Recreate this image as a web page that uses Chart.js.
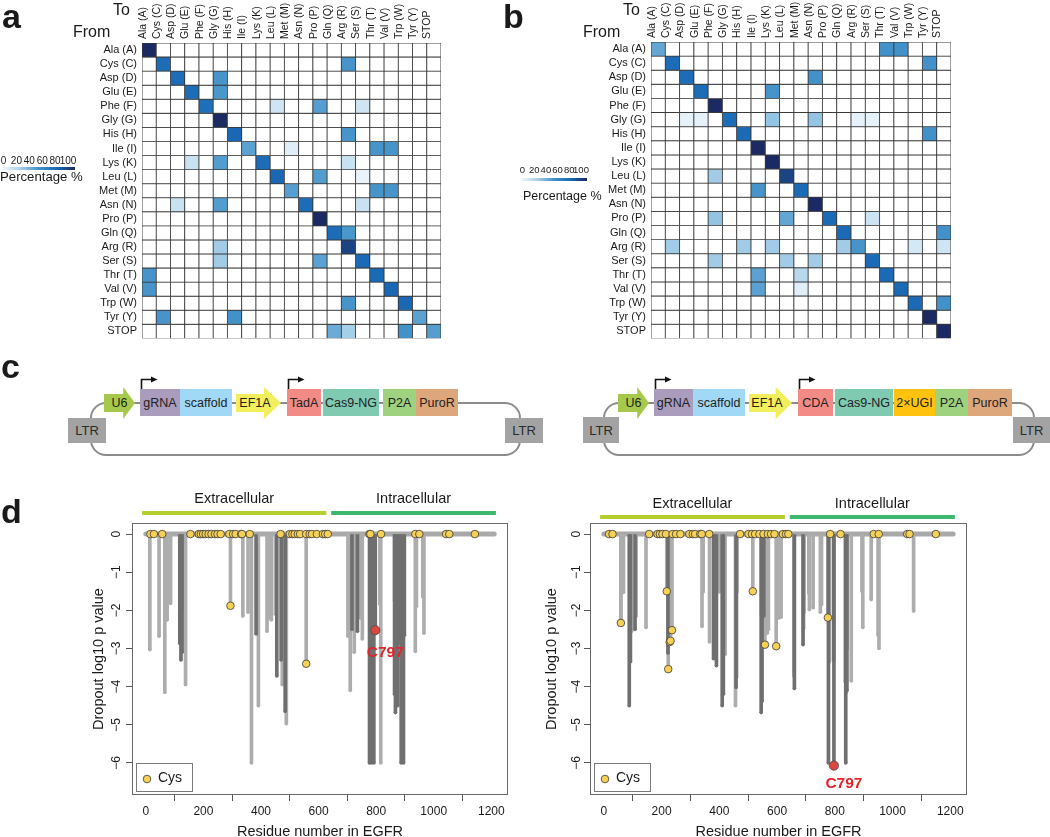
<!DOCTYPE html>
<html>
<head>
<meta charset="utf-8">
<script src="https://cdn.jsdelivr.net/npm/chart.js@4.4.1/dist/chart.umd.min.js"></script>
<style>
  body { margin: 0; background: #fff; font-family: 'Liberation Sans', Arial, sans-serif; color: #1a1a1a; }
  #page { position: relative; width: 1050px; height: 837px; overflow: hidden; }
  canvas { position: absolute; }
  .t { position: absolute; white-space: nowrap; line-height: 1; }
  .letter { font-weight: bold; font-size: 34px; }
  .tofrom { font-size: 16px; }
  .el { position: absolute; top: 389px; height: 27px; display: flex; align-items: center; justify-content: center; font-size: 12.5px; color: #222; }
  .arrow { top: 387px; height: 32px; clip-path: polygon(0 22%, 62% 22%, 62% 0, 100% 50%, 62% 100%, 62% 78%, 0 78%); }
  .ltr { background: #a3a3a3; font-size: 13px; color: #2a2a2a; }
  .loop { position: absolute; top: 402px; height: 54px; box-sizing: border-box; border: 2.5px solid #8c8c8c; border-radius: 16px; }
  .grad { position: absolute; height: 3px; background: linear-gradient(to right, #f2f8fd, #a9d0ea, #4292c9, #1a6ab6, #1b2a63); }
</style>
</head>
<body>
<div id="page">
  <canvas id="hmA" width="460" height="350" style="left:0;top:0"></canvas>
  <canvas id="hmB" width="470" height="350" style="left:500px;top:0"></canvas>
  <canvas id="ldA" width="450" height="352" style="left:80px;top:490px"></canvas>
  <canvas id="ldB" width="450" height="352" style="left:540px;top:490px"></canvas>

  <div class="t letter" style="left:2px;top:-1px">a</div>
  <div class="t letter" style="left:503px;top:-1px">b</div>
  <div class="t letter" style="left:1px;top:349px">c</div>
  <div class="t letter" style="left:1px;top:494px">d</div>

  <div class="t tofrom" style="left:113px;top:2px">To</div>
  <div class="t tofrom" style="left:73px;top:24px">From</div>
  <div class="t tofrom" style="left:623px;top:2px">To</div>
  <div class="t tofrom" style="left:583px;top:24px">From</div>

  <!-- colour keys -->
  <div id="keyA"></div>
  <div class="grad" style="left:2px;top:167px;width:73px"></div>
  <div class="t" style="left:0;top:170px;font-size:13.2px">Percentage %</div>
  <div id="keyB"></div>
  <div class="grad" style="left:521px;top:178px;width:66px"></div>
  <div class="t" style="left:523px;top:190px;font-size:12.5px">Percentage %</div>

  <!-- panel c, left construct -->
  <div class="loop" style="left:90px;width:431px"></div>
  <div class="el ltr" style="left:68px;top:418px;width:38px;height:25px">LTR</div>
  <div class="el ltr" style="left:505px;top:418px;width:38px;height:25px">LTR</div>
  <div class="el arrow" style="left:104px;width:31px;background:#a6c94b">U6</div>
  <div class="el" style="left:140px;width:40px;background:#a99cbd">gRNA</div>
  <div class="el" style="left:180px;width:52px;background:#a0d8f5">scaffold</div>
  <div class="el arrow" style="left:236px;width:45px;background:#f3ee5b;padding-right:7px;box-sizing:border-box">EF1A</div>
  <div class="el" style="left:287px;width:34px;background:#f28b86">TadA</div>
  <div class="el" style="left:323px;width:56px;background:#7fcab1">Cas9-NG</div>
  <div class="el" style="left:383px;width:33px;background:#9ed27f">P2A</div>
  <div class="el" style="left:416px;width:42px;background:#dea67b">PuroR</div>

  <!-- panel c, right construct -->
  <div class="loop" style="left:603px;width:432px"></div>
  <div class="el ltr" style="left:583px;top:417px;width:36px;height:26px">LTR</div>
  <div class="el ltr" style="left:1013px;top:417px;width:37px;height:26px">LTR</div>
  <div class="el arrow" style="left:618px;width:31px;background:#a6c94b">U6</div>
  <div class="el" style="left:654px;width:39px;background:#a99cbd">gRNA</div>
  <div class="el" style="left:693px;width:52px;background:#a0d8f5">scaffold</div>
  <div class="el arrow" style="left:749px;width:43px;background:#f3ee5b;padding-right:7px;box-sizing:border-box">EF1A</div>
  <div class="el" style="left:798px;width:35px;background:#f28b86">CDA</div>
  <div class="el" style="left:835px;width:58px;background:#7fcab1">Cas9-NG</div>
  <div class="el" style="left:894px;width:41px;background:#ffc30f">2×UGI</div>
  <div class="el" style="left:935px;width:33px;background:#9ed27f">P2A</div>
  <div class="el" style="left:968px;width:44px;background:#dea67b">PuroR</div>

  <svg width="1050" height="837" style="position:absolute;left:0;top:0;pointer-events:none">
    <g stroke="#111" stroke-width="1.6" fill="none">
      <path d="M141.5 389 V379.5 H152"/>
      <path d="M288.5 389 V379.5 H299"/>
      <path d="M655.5 389 V379.5 H666"/>
      <path d="M799.5 389 V379.5 H810"/>
    </g>
    <g fill="#111">
      <path d="M151 376.5 L157.5 379.5 L151 382.5 Z"/>
      <path d="M298 376.5 L304.5 379.5 L298 382.5 Z"/>
      <path d="M665 376.5 L671.5 379.5 L665 382.5 Z"/>
      <path d="M809 376.5 L815.5 379.5 L809 382.5 Z"/>
    </g>
  </svg>
</div>

<script>
// ---------- panel a / b : substitution heatmaps ----------
const colLabels = ['Ala (A)', 'Cys (C)', 'Asp (D)', 'Glu (E)', 'Phe (F)', 'Gly (G)', 'His (H)',
  'Ile (I)', 'Lys (K)', 'Leu (L)', 'Met (M)', 'Asn (N)', 'Pro (P)', 'Gln (Q)', 'Arg (R)',
  'Ser (S)', 'Thr (T)', 'Val (V)', 'Trp (W)', 'Tyr (Y)', 'STOP'];
const rowLabels = colLabels;
const keyTicks = [0, 20, 40, 60, 80, 100];

// [from row, to column, percentage]
const cellsA = [
  [0, 0, 100],
  [1, 1, 74], [1, 14, 49],
  [2, 2, 74], [2, 5, 49],
  [3, 3, 74], [3, 5, 48],
  [4, 4, 72], [4, 9, 12], [4, 12, 45], [4, 15, 12],
  [5, 5, 100],
  [6, 6, 76], [6, 14, 49],
  [7, 7, 44], [7, 10, 6], [7, 16, 49], [7, 17, 49],
  [8, 3, 14], [8, 5, 46], [8, 8, 74], [8, 14, 14],
  [9, 9, 76], [9, 12, 46], [9, 15, 3],
  [10, 10, 45], [10, 16, 49], [10, 17, 49],
  [11, 2, 14], [11, 5, 46], [11, 11, 74], [11, 15, 14],
  [12, 12, 100],
  [13, 13, 74], [13, 14, 48],
  [14, 5, 27], [14, 14, 90],
  [15, 5, 27], [15, 12, 44], [15, 15, 75],
  [16, 0, 49], [16, 16, 75],
  [17, 0, 49], [17, 17, 76],
  [18, 14, 49], [18, 18, 76],
  [19, 1, 49], [19, 6, 50], [19, 19, 44],
  [20, 13, 40], [20, 14, 26], [20, 18, 50], [20, 20, 45]
];
const cellsB = [
  [0, 0, 42], [0, 16, 50], [0, 17, 50],
  [1, 1, 74], [1, 19, 50],
  [2, 2, 74], [2, 11, 50],
  [3, 3, 74], [3, 8, 49],
  [4, 4, 100],
  [5, 2, 4], [5, 3, 4], [5, 5, 74], [5, 8, 30], [5, 11, 30], [5, 14, 4], [5, 15, 4],
  [6, 6, 75], [6, 19, 50],
  [7, 7, 100],
  [8, 8, 100],
  [9, 4, 27], [9, 9, 90],
  [10, 7, 49], [10, 10, 75],
  [11, 11, 100],
  [12, 4, 30], [12, 9, 42], [12, 12, 75], [12, 15, 13],
  [13, 13, 75], [13, 20, 50],
  [14, 1, 27], [14, 6, 27], [14, 8, 27], [14, 13, 27], [14, 14, 49], [14, 18, 10], [14, 20, 12],
  [15, 4, 27], [15, 9, 27], [15, 11, 27], [15, 15, 75],
  [16, 7, 44], [16, 10, 20], [16, 16, 75],
  [17, 7, 44], [17, 10, 6], [17, 17, 75],
  [18, 18, 75], [18, 20, 50],
  [19, 19, 100],
  [20, 20, 100]
];

// ---------- panel d : dropout lollipops ----------
const xTicks = [0, 200, 400, 600, 800, 1000, 1200];
const yTicks = [0, -1, -2, -3, -4, -5, -6];
const baselineResidues = [0, 1210];
const domainNames = ['Extracellular', 'Intracellular'];
const domainStart = [-13, 644];
const domainEnd = [627, 1216];

// [residue, log10 p]
const abeLight = [[14, -3.03], [46, -2.68], [66, -4.15], [74, -2.25], [86, -1.82], [132, -1.97], [138, -3.95],
  [337, -2.15], [355, -2.05], [367, -6.0], [388, -2.3], [391, -4.5], [421, -2.55], [428, -2.2], [436, -2.25],
  [450, -2.1], [474, -3.95], [488, -4.97], [702, -2.68], [710, -4.1], [724, -3.1], [745, -2.2], [752, -2.75],
  [786, -4.29], [790, -3.91], [813, -1.84], [816, -6.0], [864, -1.74], [936, -3.08], [940, -1.9],
  [962, -1.65], [966, -2.6]];
const abeDark = [[118, -2.87], [122, -3.3], [126, -3.1], [383, -2.62], [455, -3.72], [470, -3.3], [484, -4.65],
  [716, -2.5], [735, -2.55], [777, -6.0], [784, -6.0], [792, -6.0], [864, -4.2], [867, -4.68], [875, -4.5],
  [880, -2.85], [887, -6.0], [895, -6.0], [898, -2.65]];
const abeCysBase = [16, 28, 57, 155, 184, 191, 199, 208, 218, 228, 240, 249, 260, 290, 303, 312, 331, 334, 361,
  468, 500, 509, 517, 528, 536, 557, 569, 577, 594, 615, 623, 632, 777, 780, 817, 936, 950, 1043, 1054, 1143];
const abeCysLow = [[294, -1.88], [557, -3.4]];
const abeC797 = [797, -2.52];

const cbeLight = [[59, -2.33], [68, -1.53], [91, -1.72], [96, -2.55], [112, -2.15], [146, -2.45],
  [340, -2.42], [344, -1.52], [366, -2.83], [400, -1.52], [420, -3.15], [456, -4.5], [460, -3.75], [462, -1.52],
  [546, -2.15], [566, -2.6], [570, -2.5], [606, -2.2], [614, -2.18], [658, -3.72], [692, -2.47], [694, -2.05],
  [710, -1.55], [712, -1.98], [725, -1.93], [750, -2.05], [754, -1.85], [781, -3.35], [836, -3.87], [840, -4.15],
  [843, -3.0], [857, -3.85], [894, -1.5], [897, -2.45], [926, -1.72], [950, -2.65], [953, -3.0], [1073, -2.02]];
const cbeDark = [[88, -4.5], [92, -3.35], [108, -2.5], [222, -3.12], [380, -3.27], [385, -3.12], [390, -3.45],
  [410, -4.5], [414, -4.2], [458, -4.02], [545, -4.68], [548, -4.38], [554, -2.15], [660, -4.05], [690, -2.9],
  [778, -6.0], [796, -3.3], [838, -6.0], [842, -4.1]];
const cbeCysBase = [18, 30, 157, 186, 194, 203, 215, 238, 250, 265, 296, 308, 316, 334, 339, 365, 472, 501, 513,
  524, 539, 553, 568, 579, 591, 620, 631, 639, 784, 820, 935, 952, 1051, 1059, 1150];
const cbeCysLow = [[59, -2.33], [218, -1.5], [223, -3.54], [228, -2.83], [231, -2.8], [236, -2.52],
  [516, -1.5], [558, -2.9], [597, -2.94], [776, -2.19]];
const cbeC797 = [797, -6.07];

Chart.defaults.font.family = "'Liberation Sans', Arial, sans-serif";
Chart.defaults.color = '#1a1a1a';

// colour ramp for the heatmap cells
const ramp = [[0, [242, 248, 253]], [25, [169, 208, 234]], [50, [66, 146, 201]], [75, [26, 106, 182]], [100, [27, 42, 99]]];
function cellColor(v) {
  if (!v) return '#ffffff';
  for (let i = 1; i < ramp.length; i++) {
    if (v <= ramp[i][0]) {
      const [v0, c0] = ramp[i - 1], [v1, c1] = ramp[i];
      const f = (v - v0) / (v1 - v0);
      return 'rgb(' + c0.map((c, k) => Math.round(c + (c1[k] - c) * f)).join(',') + ')';
    }
  }
  return 'rgb(27,42,99)';
}

function colourKey(id, left, step, top, size) {
  const box = document.getElementById(id);
  keyTicks.forEach((v, i) => {
    const s = document.createElement('div');
    s.className = 't';
    s.textContent = v;
    s.style.cssText = 'left:' + (left + i * step) + 'px;top:' + top + 'px;font-size:' + size + 'px;transform:translateX(-50%)';
    box.appendChild(s);
  });
}
colourKey('keyA', 3.5, 12.9, 156, 10);
colourKey('keyB', 522.5, 11.7, 165, 9.5);

function heatmap(id, cells, yw, xh, padRight, padBottom) {
  const grid = rowLabels.map(() => colLabels.map(() => 0));
  cells.forEach(([r, c, v]) => { grid[r][c] = v; });
  new Chart(document.getElementById(id), {
    type: 'bar',
    data: {
      labels: colLabels,
      datasets: grid.map((row, r) => ({
        data: row.map(() => [r, r + 1]),
        backgroundColor: row.map(cellColor),
        borderColor: '#3a3a3a',
        borderWidth: 0.8,
        borderSkipped: false,
        barPercentage: 1,
        categoryPercentage: 1,
        grouped: false
      }))
    },
    options: {
      responsive: false,
      animation: false,
      events: [],
      layout: { padding: { right: padRight, bottom: padBottom }, autoPadding: false },
      plugins: { legend: { display: false }, tooltip: { enabled: false } },
      scales: {
        x: {
          position: 'top',
          afterFit: s => { s.height = xh; },
          grid: { display: false, drawTicks: false },
          border: { display: false },
          ticks: { autoSkip: false, minRotation: 90, maxRotation: 90, padding: 4, labelOffset: 6.3,
            font: { size: 10.5 }, color: '#1a1a1a' }
        },
        y: {
          type: 'linear', min: 0, max: 21, reverse: true,
          afterBuildTicks: s => { s.ticks = rowLabels.map((_, i) => ({ value: i + 0.5 })); },
          afterFit: s => { s.width = yw; },
          grid: { display: false, drawTicks: false },
          border: { display: false },
          ticks: { autoSkip: false, padding: 5, font: { size: 11 }, color: '#1a1a1a', callback: (v, i) => rowLabels[i] }
        }
      }
    }
  });
}

heatmap('hmA', cellsA, 142, 43, 19, 8);
heatmap('hmB', cellsB, 151, 42, 19, 8);

// box, rotated y labels, domain bars, legend and C797 tag
const lollipopDecor = {
  id: 'decor',
  afterDraw(chart, args, o) {
    const { ctx, chartArea: a, scales: { x, y } } = chart;
    ctx.save();
    ctx.strokeStyle = '#6a6a6a';
    ctx.lineWidth = 1;
    ctx.strokeRect(a.left + 0.5, a.top + 0.5, a.width - 1, a.height - 1);

    ctx.fillStyle = '#1a1a1a';
    ctx.font = "12px 'Liberation Sans', Arial, sans-serif";
    ctx.textAlign = 'center';
    ctx.textBaseline = 'middle';
    y.ticks.forEach(t => {
      ctx.save();
      ctx.translate(o.tickX, y.getPixelForValue(t.value));
      ctx.rotate(-Math.PI / 2);
      ctx.fillText(t.value === 0 ? '0' : '\u2212' + Math.abs(t.value), 0, 0);
      ctx.restore();
    });

    ctx.font = "14.5px 'Liberation Sans', Arial, sans-serif";
    domainNames.forEach((name, i) => {
      const x0 = x.getPixelForValue(domainStart[i]);
      const x1 = x.getPixelForValue(domainEnd[i]);
      ctx.fillStyle = i === 0 ? '#b6cd2f' : '#3cb96f';
      ctx.fillRect(x0, o.barY - 2, x1 - x0, 4);
      ctx.fillStyle = '#1a1a1a';
      ctx.fillText(name, (x0 + x1) / 2, o.labelY);
    });

    // legend
    const lx = a.left + 4, ly = a.bottom - 32;
    ctx.strokeStyle = '#7a7a7a';
    ctx.strokeRect(lx + 0.5, ly + 0.5, 56, 28);
    ctx.beginPath();
    ctx.arc(lx + 11, ly + 16, 3.8, 0, Math.PI * 2);
    ctx.fillStyle = '#f6d155';
    ctx.fill();
    ctx.strokeStyle = '#3a3a3a';
    ctx.lineWidth = 0.8;
    ctx.stroke();
    ctx.fillStyle = '#1a1a1a';
    ctx.font = "14px 'Liberation Sans', Arial, sans-serif";
    ctx.textAlign = 'left';
    ctx.fillText('Cys', lx + 22, ly + 15);

    // C797 tag under the red point
    const red = chart.getDatasetMeta(chart.data.datasets.length - 1).data[0];
    ctx.fillStyle = '#e3242b';
    ctx.font = "bold 15.5px 'Liberation Sans', Arial, sans-serif";
    ctx.textAlign = 'center';
    ctx.fillText('C797', red.x + o.tagDx, red.y + o.tagDy);
    ctx.restore();
  }
};

function lollipop(id, light, dark, cysBase, cysLow, c797, lay) {
  const pts = arr => arr.map(([x, y]) => ({ x, y }));
  new Chart(document.getElementById(id), {
    type: 'bar',
    data: {
      datasets: [
        { type: 'line', data: baselineResidues.map(x => ({ x, y: 0 })), borderColor: '#a9a9a9', borderWidth: 5,
          borderCapStyle: 'round', pointRadius: 0, order: 7 },
        { type: 'bar', data: pts(light.concat(cysLow)), backgroundColor: '#adadad', barThickness: 3, grouped: false, order: 6 },
        { type: 'scatter', data: pts(light), pointRadius: 1.8, backgroundColor: '#adadad', borderWidth: 0, order: 5 },
        { type: 'bar', data: pts(dark.concat([c797])), backgroundColor: '#6f6f6f', barThickness: 3, grouped: false, order: 4 },
        { type: 'scatter', data: pts(dark), pointRadius: 1.8, backgroundColor: '#6f6f6f', borderWidth: 0, order: 3 },
        { type: 'scatter', data: cysBase.map(x => ({ x, y: 0 })).concat(pts(cysLow)), pointRadius: 3.8,
          backgroundColor: '#f6d155', borderColor: '#3a3a3a', borderWidth: 0.8, order: 2 },
        { type: 'scatter', data: pts([c797]), pointRadius: 4.6, backgroundColor: '#d9473f', borderColor: '#4a4a4a',
          borderWidth: 0.8, order: 1 }
      ]
    },
    options: {
      responsive: false,
      animation: false,
      events: [],
      layout: { padding: { top: 33, right: lay.padRight }, autoPadding: false },
      plugins: { legend: { display: false }, tooltip: { enabled: false }, decor: lay },
      scales: {
        x: {
          type: 'linear', min: -48, max: 1258, offset: false,
          afterBuildTicks: s => { s.ticks = xTicks.map(v => ({ value: v })); },
          afterFit: s => { s.height = 47; },
          grid: { drawOnChartArea: false, drawTicks: true, tickLength: 6, color: '#555' },
          border: { display: false },
          ticks: { autoSkip: false, maxRotation: 0, padding: 3, font: { size: 12 }, color: '#1a1a1a', callback: v => String(v) },
          title: { display: true, text: 'Residue number in EGFR', font: { size: 14.5 }, color: '#1a1a1a', padding: { top: 0, bottom: 1 } }
        },
        y: {
          type: 'linear', min: -6.84, max: 0.29,
          afterBuildTicks: s => { s.ticks = yTicks.map(v => ({ value: v })); },
          afterFit: s => { s.width = lay.yw; },
          grid: { drawOnChartArea: false, drawTicks: true, tickLength: 6, color: '#555' },
          border: { display: false },
          ticks: { display: false },
          title: { display: true, text: 'Dropout log10 p value', font: { size: 14.5 }, color: '#1a1a1a', padding: { top: lay.titlePad, bottom: 0 } }
        }
      }
    },
    plugins: [lollipopDecor]
  });
}

lollipop('ldA', abeLight, abeDark, abeCysBase, abeCysLow, abeC797,
  { yw: 52, padRight: 22, titlePad: 10, tickX: 37, barY: 23, labelY: 9, tagDx: 10, tagDy: 23 });
lollipop('ldB', cbeLight, cbeDark, cbeCysBase, cbeCysLow, cbeC797,
  { yw: 50, padRight: 23, titlePad: 3, tickX: 37, barY: 27, labelY: 14, tagDx: 10, tagDy: 18 });
</script>
</body>
</html>
